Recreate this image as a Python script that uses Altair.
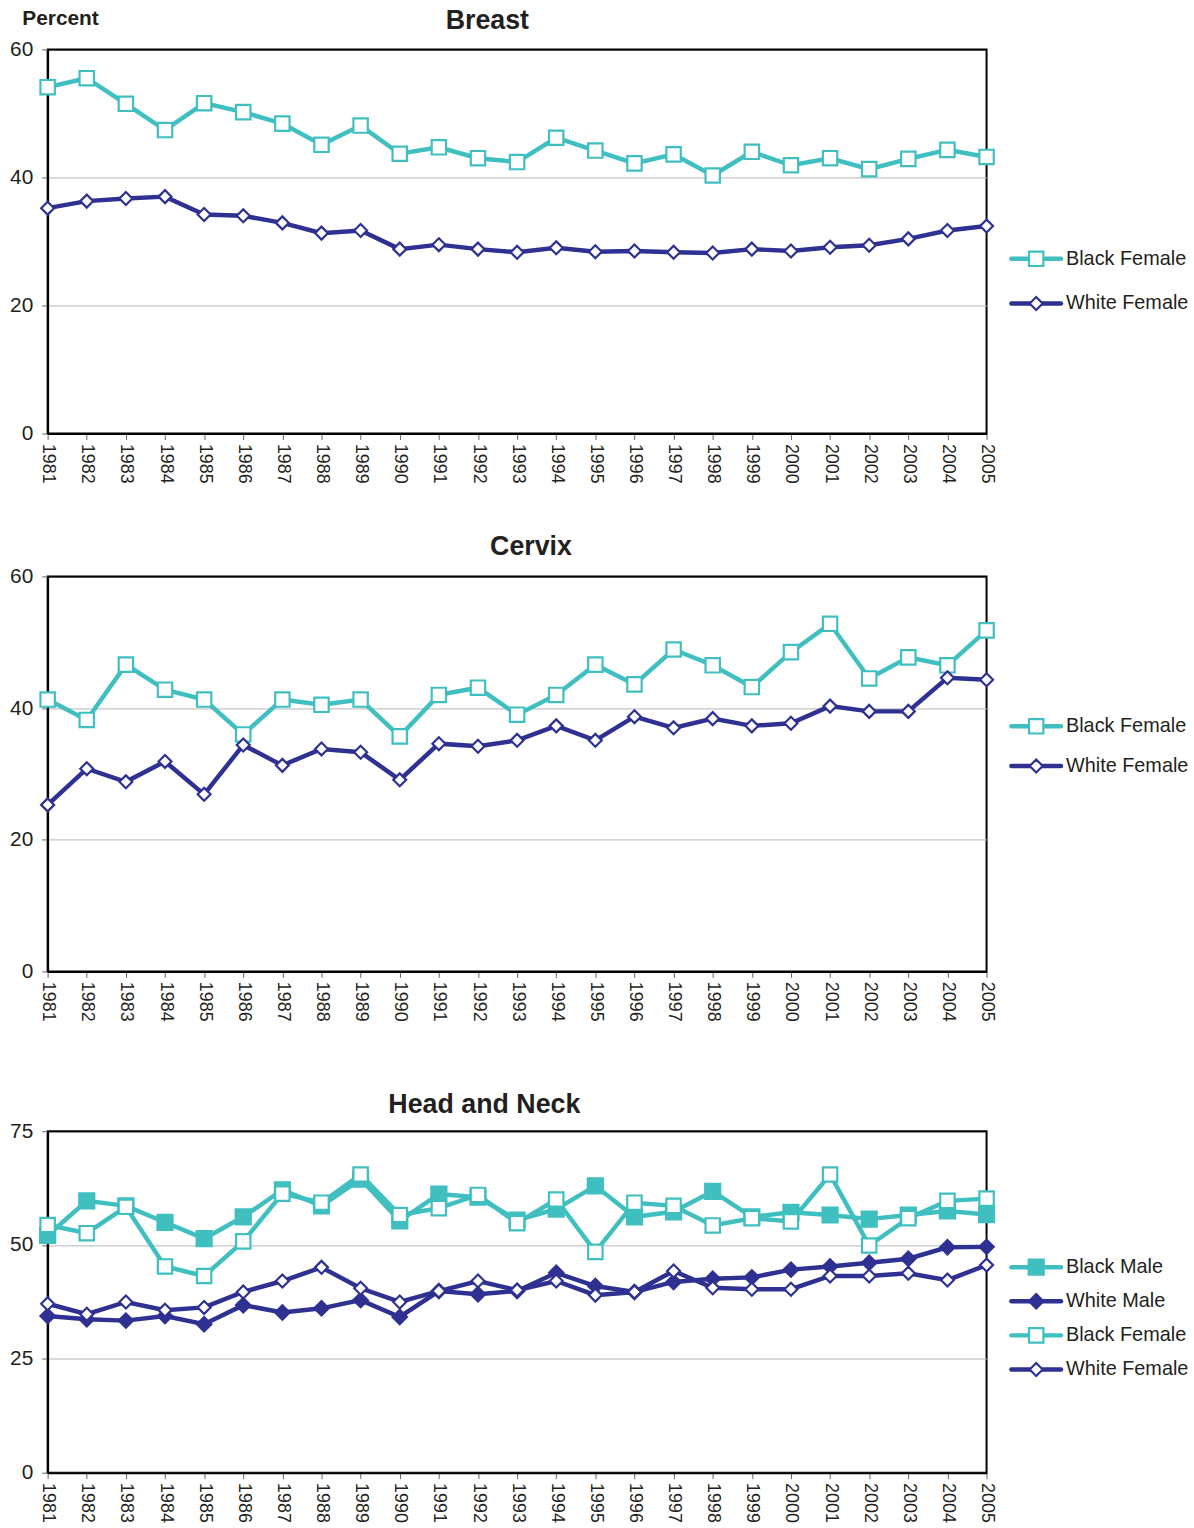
import altair as alt
import pandas as pd

years = list(range(1981, 2006))

breast_black_female = [54.1, 55.5, 51.5, 47.4, 51.6, 50.2, 48.4, 45.1, 48.1, 43.7, 44.7, 43.0, 42.4,
                       46.2, 44.2, 42.2, 43.6, 40.3, 44.0, 41.9, 43.0, 41.3, 42.9, 44.3, 43.2]
breast_white_female = [35.2, 36.3, 36.7, 37.0, 34.2, 34.0, 32.9, 31.3, 31.7, 28.8, 29.5, 28.8, 28.3,
                       29.0, 28.4, 28.5, 28.3, 28.2, 28.8, 28.5, 29.1, 29.4, 30.4, 31.7, 32.4]

cervix_black_female = [41.3, 38.2, 46.6, 42.8, 41.3, 36.0, 41.3, 40.5, 41.3, 35.7, 42.0, 43.1, 39.0,
                       42.0, 46.6, 43.6, 48.9, 46.5, 43.2, 48.5, 52.8, 44.5, 47.7, 46.5, 51.8]
cervix_white_female = [25.3, 30.8, 28.8, 31.9, 26.9, 34.4, 31.3, 33.8, 33.3, 29.1, 34.6, 34.2, 35.1,
                       37.3, 35.1, 38.7, 37.0, 38.4, 37.3, 37.7, 40.3, 39.5, 39.5, 44.6, 44.3]

head_black_male = [52.1, 59.7, 58.6, 55.0, 51.4, 56.2, 62.1, 58.6, 64.5, 55.3, 61.2, 60.5, 55.5,
                   57.9, 63.0, 56.2, 57.3, 61.8, 56.2, 57.2, 56.6, 55.7, 56.6, 57.5, 56.7]
head_white_male = [34.4, 33.7, 33.4, 34.4, 32.6, 36.8, 35.2, 36.1, 37.9, 34.2, 39.9, 39.2, 39.9,
                   43.9, 41.0, 39.7, 41.9, 42.6, 42.9, 44.6, 45.3, 46.1, 47.0, 49.5, 49.6]
head_black_female = [54.4, 52.6, 58.4, 45.3, 43.2, 50.8, 61.3, 59.3, 65.5, 56.6, 58.1, 61.0, 54.8,
                     60.0, 48.5, 59.3, 58.6, 54.3, 55.9, 55.2, 65.5, 49.9, 55.9, 59.7, 60.2]
head_white_female = [37.1, 34.8, 37.5, 35.7, 36.3, 39.7, 42.1, 45.1, 40.5, 37.5, 39.9, 42.1, 40.1,
                     42.1, 39.0, 39.7, 44.3, 40.6, 40.3, 40.3, 43.2, 43.2, 43.8, 42.3, 45.6]

TEAL = "#40BFC1"
NAVY = "#2E3192"
FONT = "Liberation Sans"
TXT = "#231F20"

# colour, shape, fill, size
STYLE = {
    "Black Male": (TEAL, "square", TEAL, 230),
    "White Male": (NAVY, "diamond", NAVY, 210),
    "Black Female": (TEAL, "square", "white", 210),
    "White Female": (NAVY, "diamond", "white", 170),
}


def make_df(series_dict):
    rows = []
    for name, vals in series_dict.items():
        for y, v in zip(years, vals):
            rows.append({"year": y, "value": v, "series": name})
    return pd.DataFrame(rows)


def panel(title, series_dict, ymax, yticks, height, legend_range, title_dx, title_offset,
          percent=False):
    names = list(series_dict.keys())
    df = make_df(series_dict)

    x = alt.X("year:Q",
              scale=alt.Scale(domain=[1981, 2005], nice=False, zero=False),
              axis=alt.Axis(values=years, format="d", labelAngle=90, title=None, grid=False,
                            tickSize=6, labelFontSize=18, labelPadding=4, labelOverlap=False,
                            labelFlush=False, domainColor="black", domainWidth=2,
                            tickColor="#666666", labelColor=TXT, labelFont=FONT))
    yaxis_kwargs = dict(values=yticks, grid=True,
                        gridColor=alt.condition(f"datum.value == {ymax}", alt.value("black"),
                                                alt.value("#B5B5B5")),
                        gridWidth=1,
                        tickSize=6, labelFontSize=21, labelPadding=9, domainColor="black",
                        domainWidth=2, tickColor="#666666", labelColor=TXT, labelFont=FONT)
    if percent:
        yaxis_kwargs.update(title="Percent", titleAngle=0, titleAlign="left",
                            titleBaseline="alphabetic",
                            titleX=-26, titleY=-25, titleFontSize=21, titleFontWeight="bold",
                            titleFont=FONT, titleColor=TXT)
    else:
        yaxis_kwargs.update(title=None)
    y = alt.Y("value:Q", scale=alt.Scale(domain=[0, ymax], nice=False),
              axis=alt.Axis(**yaxis_kwargs))

    layers = []
    for n in names:
        col, shp, fil, sz = STYLE[n]
        sub = alt.Chart(df).transform_filter(alt.datum.series == n)
        layers.append(sub.mark_line(strokeWidth=4.5, color=col).encode(x=x, y=y))
    for n in names:
        col, shp, fil, sz = STYLE[n]
        sub = alt.Chart(df).transform_filter(alt.datum.series == n)
        layers.append(sub.mark_point(shape=shp, filled=True, fill=fil, stroke=col, size=sz,
                                     opacity=1, strokeWidth=2.2).encode(x=x, y=y))
    plot = alt.layer(*layers).properties(
        width=946, height=height,
        view=alt.ViewBackground(stroke="black", strokeWidth=2),
        title=alt.TitleParams(title, fontSize=27, fontWeight="bold", font=FONT, color=TXT,
                              anchor="middle", dx=title_dx, offset=title_offset),
    )

    ldf = pd.DataFrame({"series": names})
    ly = alt.Y("series:N",
               scale=alt.Scale(type="point", domain=names, range=legend_range, padding=0),
               axis=None)
    llayers = []
    for n in names:
        col, shp, fil, sz = STYLE[n]
        sub = alt.Chart(ldf).transform_filter(alt.datum.series == n)
        llayers.append(sub.mark_rule(strokeWidth=4.5, strokeCap="round", color=col).encode(
            x=alt.value(2), x2=alt.value(52), y=ly))
        llayers.append(sub.mark_point(shape=shp, filled=True, fill=fil, stroke=col, size=sz,
                                      opacity=1, strokeWidth=2.2).encode(x=alt.value(27), y=ly))
    llayers.append(alt.Chart(ldf).mark_text(align="left", baseline="middle", fontSize=20,
                                            font=FONT, color=TXT).encode(
        x=alt.value(57), y=ly, text="series:N"))
    legend = alt.layer(*llayers).properties(
        width=185, height=height, view=alt.ViewBackground(stroke="transparent"))
    return alt.hconcat(plot, legend, spacing=9)


breast = panel("Breast", {"Black Female": breast_black_female, "White Female": breast_white_female},
               60, [0, 20, 40, 60], 387, [211, 256], -30, -27, percent=True)
cervix = panel("Cervix", {"Black Female": cervix_black_female, "White Female": cervix_white_female},
               60, [0, 20, 40, 60], 398, [151, 191], 14, 5)
head = panel("Head and Neck", {"Black Male": head_black_male, "White Male": head_white_male,
                                "Black Female": head_black_female,
                                "White Female": head_white_female},
             75, [0, 25, 50, 75], 344, [137, 240], -33, 1)

chart = alt.vconcat(alt.vconcat(breast, cervix, spacing=47), head, spacing=68).properties(
    padding={"left": 8, "top": 0, "right": 0, "bottom": 0}
).configure_view(stroke="black", strokeWidth=2).configure(background="white")

chart.save("out.html", embed_options={"renderer": "svg", "actions": False})
